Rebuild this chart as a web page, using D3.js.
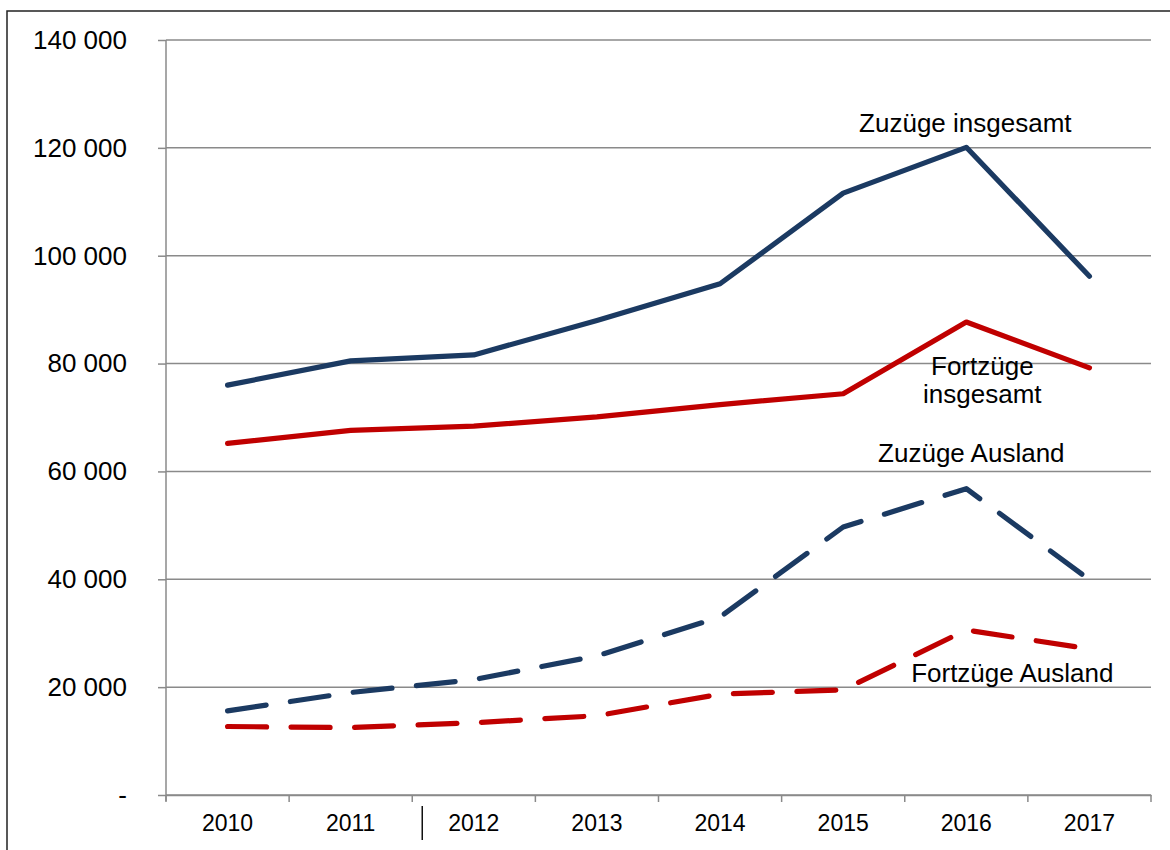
<!DOCTYPE html>
<html>
<head>
<meta charset="utf-8">
<script src="https://cdn.jsdelivr.net/npm/d3@7"></script>
<style>
  body { margin: 0; background: #fff; }
  svg { display: block; font-family: "Liberation Sans", Arial, sans-serif; }
</style>
</head>
<body>
<script>
const years = ["2010", "2011", "2012", "2013", "2014", "2015", "2016", "2017"];
const zuzuegeInsgesamt = [76000, 80500, 81600, 88000, 94800, 111600, 120100, 96200];
const fortzuegeInsgesamt = [65200, 67600, 68400, 70100, 72400, 74400, 87700, 79200];
const zuzuegeAusland = [15600, 19000, 21400, 25800, 33000, 49700, 56800, 39900];
const fortzuegeAusland = [12700, 12500, 13400, 14700, 18700, 19500, 30600, 27100];
const yTicks = [0, 20000, 40000, 60000, 80000, 100000, 120000, 140000];

const series = [
  { name: "Zuzüge insgesamt", values: zuzuegeInsgesamt, color: "#1b3a62", dashed: false },
  { name: "Fortzüge insgesamt", values: fortzuegeInsgesamt, color: "#c00000", dashed: false },
  { name: "Zuzüge Ausland", values: zuzuegeAusland, color: "#1b3a62", dashed: true },
  { name: "Fortzüge Ausland", values: fortzuegeAusland, color: "#c00000", dashed: true },
];

// labels anchored in data space (year + value), dx in px
const labels = [
  { lines: ["Zuzüge insgesamt"], year: "2016", value: 123000, dx: -1 },
  { lines: ["Fortzüge", "insgesamt"], year: "2016", value: 77900, dx: 16 },
  { lines: ["Zuzüge Ausland"], year: "2016", value: 61700, dx: 5 },
  { lines: ["Fortzüge Ausland"], year: "2016", value: 21000, dx: 46 },
];

const W = 1170, H = 850;
const margin = { top: 40, left: 166, right: 19, bottom: 55 };
const width = W - margin.left - margin.right,
  height = H - margin.top - margin.bottom;

const de = d3.formatLocale({ decimal: ",", thousands: " ", grouping: [3], currency: ["", ""] });
const fmt = (d) => (d === 0 ? "-" : de.format(",")(d));

const root = d3.select("body").append("svg").attr("width", W).attr("height", H);

// outer frame
root.append("rect")
  .attr("x", 7).attr("y", 11)
  .attr("width", W + 20).attr("height", H + 20)
  .attr("fill", "none").attr("stroke", "#222").attr("stroke-width", 1.5);

const svg = root.append("g").attr("transform", "translate(" + margin.left + "," + margin.top + ")");

const x = d3.scaleBand().domain(years).range([0, width]).padding(0);
const y = d3.scaleLinear().domain([0, 140000]).range([height, 0]);

// gridlines
svg.append("g")
  .selectAll("line")
  .data(yTicks)
  .join("line")
  .attr("x1", 0).attr("x2", width)
  .attr("y1", (d) => y(d)).attr("y2", (d) => y(d))
  .attr("stroke", "#8a8a8a").attr("stroke-width", 1.5);

// y axis
const yAxis = svg.append("g")
  .call(d3.axisLeft(y).tickValues(yTicks).tickFormat(fmt).tickSize(8).tickPadding(31));
yAxis.select(".domain").remove();
yAxis.selectAll(".tick line").attr("stroke", "#8a8a8a").attr("stroke-width", 1.5);
yAxis.selectAll("text").attr("font-size", 26).attr("fill", "#000").attr("font-family", null);
svg.append("line")
  .attr("x1", 0).attr("x2", 0)
  .attr("y1", y(140000)).attr("y2", height + 6)
  .attr("stroke", "#8a8a8a").attr("stroke-width", 1.5);

// x axis
const xAxis = svg.append("g")
  .attr("transform", "translate(0," + height + ")")
  .call(d3.axisBottom(x).tickSize(0).tickPadding(20));
xAxis.select(".domain").attr("stroke", "#8a8a8a").attr("stroke-width", 1.5);
xAxis.selectAll("text").attr("font-size", 23).attr("fill", "#000").attr("font-family", null);
xAxis.append("g")
  .selectAll("line")
  .data(years.map((d) => x(d)).concat([width]))
  .join("line")
  .attr("x1", (d) => d).attr("x2", (d) => d)
  .attr("y1", 0).attr("y2", 7)
  .attr("stroke", "#8a8a8a").attr("stroke-width", 1.5);

// stray mark seen under the axis near 2012
svg.append("line")
  .attr("x1", x("2012") + 10).attr("x2", x("2012") + 10)
  .attr("y1", height + 11).attr("y2", height + 45)
  .attr("stroke", "#111").attr("stroke-width", 1.5);

// lines
const line = d3.line()
  .x((d, i) => x(years[i]) + x.bandwidth() / 2)
  .y((d) => y(d));

svg.selectAll(".series")
  .data(series)
  .join("path")
  .attr("class", "series")
  .attr("fill", "none")
  .attr("stroke", (d) => d.color)
  .attr("stroke-width", 5.2)
  .attr("stroke-linecap", "round")
  .attr("stroke-linejoin", "round")
  .attr("stroke-dasharray", (d) => (d.dashed ? "39,24.5" : null))
  .attr("d", (d) => line(d.values));

// labels
labels.forEach((l) => {
  const t = svg.append("text")
    .attr("x", x(l.year) + x.bandwidth() / 2 + l.dx)
    .attr("y", y(l.value))
    .attr("text-anchor", "middle")
    .attr("font-size", 26)
    .attr("fill", "#000");
  l.lines.forEach((s, i) => {
    t.append("tspan")
      .attr("x", x(l.year) + x.bandwidth() / 2 + l.dx)
      .attr("dy", i === 0 ? 0 : 28)
      .text(s);
  });
});
</script>
</body>
</html>
